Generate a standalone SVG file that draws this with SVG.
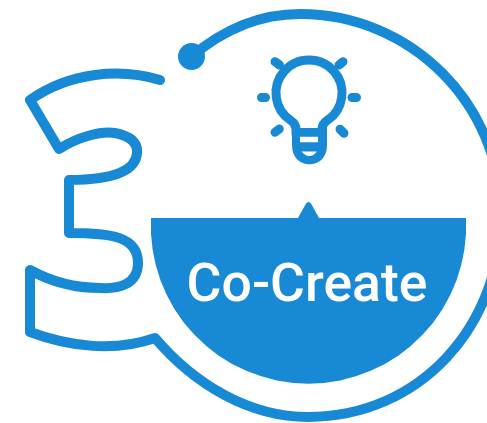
<svg xmlns="http://www.w3.org/2000/svg" width="487" height="423" viewBox="0 0 487 423">
<style>
.l{fill:none;stroke:#188ad5;stroke-linejoin:round;stroke-linecap:round}
.f{fill:#188ad5}
</style>
<rect width="487" height="423" fill="#fff"/>
<g id="ring-three">
<path class="l" stroke-width="10" d="M160 80C120 68 70 72 30 100L59 149C78 137 100 131 115 133C130 136 138 142 137 153C136 170 115 180 69 180V233C110 233 138 236 138 263C138 285 118 289 100 288C75 288 50 281 30 270V332C70 347 115 352 155 338C195 385 250 417 308 417C420 417 501 326 501 215C501 104 411 14 300 14C262 14 225 28 191 57"/>
<circle class="f" cx="191.500" cy="56.500" r="13.500"/>
</g>
<g id="bulb">
<path class="l" stroke-width="9" d="M296 134V129Q296 124 291 120.600A33 33 0 1 1 327 120.600Q322 124 322 129V134"/>
<path class="f" d="M292 128H327V145C327 158 319 164.300 309.500 164.300C300 164.300 292 158 292 145Z"/>
<path fill="#fff" d="M300 136.700H318V142.300H300ZM301.500 151.500H317Q309.500 160.500 301.500 151.500Z"/>
<path class="l" stroke-width="9" d="M261.500 97.500H265.500M352 97.500H356.500M275 61.700L279.500 65M343 61.700L339 65M275 132.300L279.300 129M344 133.300L340 129.300"/>
</g>
<g id="co-create">
<path class="f" d="M151 218H298L306 203.500Q308.500 200.500 311 203.500L319 218H466A157.700 157.700 0 1 1 151 218Z"/>
<text x="307" y="301" text-anchor="middle" font-family="Roboto, sans-serif" font-size="53.500" font-weight="500" fill="#fff">Co-Create</text>
</g>
</svg>
